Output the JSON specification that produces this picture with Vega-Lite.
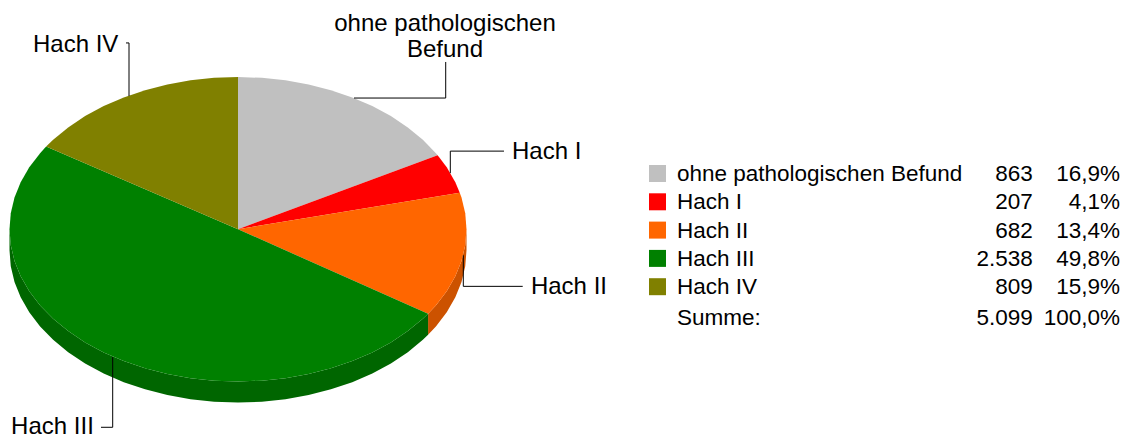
{"$schema":"https://vega.github.io/schema/vega-lite/v6.json","width":1131,"height":439,"autosize":{"type":"fit","contains":"padding"},"padding":0,"background":"#ffffff","view":{"stroke":null},
"config":{"text":{"font":"Liberation Sans","color":"#000000"}},
"datasets":{
"wand":[
{"k":"Hach II","x":83.19,"oben":-55.49,"unten":-69.31},{"k":"Hach II","x":86.6,"oben":-50,"unten":-63.82},{"k":"Hach II","x":91.35,"oben":-40.67,"unten":-54.49},{"k":"Hach II","x":95.11,"oben":-30.9,"unten":-44.72},{"k":"Hach II","x":97.81,"oben":-20.79,"unten":-34.61},{"k":"Hach II","x":99.45,"oben":-10.45,"unten":-24.27},{"k":"Hach II","x":100,"oben":0,"unten":-13.82},
{"k":"Hach III","x":-100,"oben":0,"unten":-13.82},{"k":"Hach III","x":-99.45,"oben":-10.45,"unten":-24.27},{"k":"Hach III","x":-97.81,"oben":-20.79,"unten":-34.61},{"k":"Hach III","x":-95.11,"oben":-30.9,"unten":-44.72},{"k":"Hach III","x":-91.35,"oben":-40.67,"unten":-54.49},{"k":"Hach III","x":-86.6,"oben":-50,"unten":-63.82},{"k":"Hach III","x":-80.9,"oben":-58.78,"unten":-72.6},{"k":"Hach III","x":-74.31,"oben":-66.91,"unten":-80.73},{"k":"Hach III","x":-66.91,"oben":-74.31,"unten":-88.13},{"k":"Hach III","x":-58.78,"oben":-80.9,"unten":-94.72},{"k":"Hach III","x":-50,"oben":-86.6,"unten":-100.42},{"k":"Hach III","x":-40.67,"oben":-91.35,"unten":-105.17},{"k":"Hach III","x":-30.9,"oben":-95.11,"unten":-108.93},{"k":"Hach III","x":-20.79,"oben":-97.81,"unten":-111.63},{"k":"Hach III","x":-10.45,"oben":-99.45,"unten":-113.27},{"k":"Hach III","x":0,"oben":-100,"unten":-113.82},{"k":"Hach III","x":10.45,"oben":-99.45,"unten":-113.27},{"k":"Hach III","x":20.79,"oben":-97.81,"unten":-111.63},{"k":"Hach III","x":30.9,"oben":-95.11,"unten":-108.93},{"k":"Hach III","x":40.67,"oben":-91.35,"unten":-105.17},{"k":"Hach III","x":50,"oben":-86.6,"unten":-100.42},{"k":"Hach III","x":58.78,"oben":-80.9,"unten":-94.72},{"k":"Hach III","x":66.91,"oben":-74.31,"unten":-88.13},{"k":"Hach III","x":74.31,"oben":-66.91,"unten":-80.73},{"k":"Hach III","x":80.9,"oben":-58.78,"unten":-72.6},{"k":"Hach III","x":83.19,"oben":-55.49,"unten":-69.31}],
"flaeche":[
{"k":"ohne pathologischen Befund","n":0,"x":0,"y":0},{"k":"ohne pathologischen Befund","n":1,"x":0,"y":100},{"k":"ohne pathologischen Befund","n":2,"x":10.45,"y":99.45},{"k":"ohne pathologischen Befund","n":3,"x":20.79,"y":97.81},{"k":"ohne pathologischen Befund","n":4,"x":30.9,"y":95.11},{"k":"ohne pathologischen Befund","n":5,"x":40.67,"y":91.35},{"k":"ohne pathologischen Befund","n":6,"x":50,"y":86.6},{"k":"ohne pathologischen Befund","n":7,"x":58.78,"y":80.9},{"k":"ohne pathologischen Befund","n":8,"x":66.91,"y":74.31},{"k":"ohne pathologischen Befund","n":9,"x":74.31,"y":66.91},{"k":"ohne pathologischen Befund","n":10,"x":80.9,"y":58.78},{"k":"ohne pathologischen Befund","n":11,"x":86.6,"y":50},{"k":"ohne pathologischen Befund","n":12,"x":87.37,"y":48.65},
{"k":"Hach I","n":0,"x":0,"y":0},{"k":"Hach I","n":1,"x":87.37,"y":48.65},{"k":"Hach I","n":2,"x":91.35,"y":40.67},{"k":"Hach I","n":3,"x":95.11,"y":30.9},{"k":"Hach I","n":4,"x":97.05,"y":24},
{"k":"Hach II","n":0,"x":0,"y":0},{"k":"Hach II","n":1,"x":97.05,"y":24},{"k":"Hach II","n":2,"x":97.81,"y":20.79},{"k":"Hach II","n":3,"x":99.45,"y":10.45},{"k":"Hach II","n":4,"x":100,"y":0},{"k":"Hach II","n":5,"x":99.45,"y":-10.45},{"k":"Hach II","n":6,"x":97.81,"y":-20.79},{"k":"Hach II","n":7,"x":95.11,"y":-30.9},{"k":"Hach II","n":8,"x":91.35,"y":-40.67},{"k":"Hach II","n":9,"x":86.6,"y":-50},{"k":"Hach II","n":10,"x":83.19,"y":-55.49},
{"k":"Hach III","n":0,"x":0,"y":0},{"k":"Hach III","n":1,"x":83.19,"y":-55.49},{"k":"Hach III","n":2,"x":80.9,"y":-58.78},{"k":"Hach III","n":3,"x":74.31,"y":-66.91},{"k":"Hach III","n":4,"x":66.91,"y":-74.31},{"k":"Hach III","n":5,"x":58.78,"y":-80.9},{"k":"Hach III","n":6,"x":50,"y":-86.6},{"k":"Hach III","n":7,"x":40.67,"y":-91.35},{"k":"Hach III","n":8,"x":30.9,"y":-95.11},{"k":"Hach III","n":9,"x":20.79,"y":-97.81},{"k":"Hach III","n":10,"x":10.45,"y":-99.45},{"k":"Hach III","n":11,"x":0,"y":-100},{"k":"Hach III","n":12,"x":-10.45,"y":-99.45},{"k":"Hach III","n":13,"x":-20.79,"y":-97.81},{"k":"Hach III","n":14,"x":-30.9,"y":-95.11},{"k":"Hach III","n":15,"x":-40.67,"y":-91.35},{"k":"Hach III","n":16,"x":-50,"y":-86.6},{"k":"Hach III","n":17,"x":-58.78,"y":-80.9},{"k":"Hach III","n":18,"x":-66.91,"y":-74.31},{"k":"Hach III","n":19,"x":-74.31,"y":-66.91},{"k":"Hach III","n":20,"x":-80.9,"y":-58.78},{"k":"Hach III","n":21,"x":-86.6,"y":-50},{"k":"Hach III","n":22,"x":-91.35,"y":-40.67},{"k":"Hach III","n":23,"x":-95.11,"y":-30.9},{"k":"Hach III","n":24,"x":-97.81,"y":-20.79},{"k":"Hach III","n":25,"x":-99.45,"y":-10.45},{"k":"Hach III","n":26,"x":-100,"y":0},{"k":"Hach III","n":27,"x":-99.45,"y":10.45},{"k":"Hach III","n":28,"x":-97.81,"y":20.79},{"k":"Hach III","n":29,"x":-95.11,"y":30.9},{"k":"Hach III","n":30,"x":-91.35,"y":40.67},{"k":"Hach III","n":31,"x":-86.6,"y":50},{"k":"Hach III","n":32,"x":-83.98,"y":54.29},
{"k":"Hach IV","n":0,"x":0,"y":0},{"k":"Hach IV","n":1,"x":-83.98,"y":54.29},{"k":"Hach IV","n":2,"x":-80.9,"y":58.78},{"k":"Hach IV","n":3,"x":-74.31,"y":66.91},{"k":"Hach IV","n":4,"x":-66.91,"y":74.31},{"k":"Hach IV","n":5,"x":-58.78,"y":80.9},{"k":"Hach IV","n":6,"x":-50,"y":86.6},{"k":"Hach IV","n":7,"x":-40.67,"y":91.35},{"k":"Hach IV","n":8,"x":-30.9,"y":95.11},{"k":"Hach IV","n":9,"x":-20.79,"y":97.81},{"k":"Hach IV","n":10,"x":-10.45,"y":99.45},{"k":"Hach IV","n":11,"x":0,"y":100}],
"linien":[
{"k":"ohne pathologischen Befund","n":0,"x":50.77,"y":86.18},{"k":"ohne pathologischen Befund","n":1,"x":90.9,"y":86.18},{"k":"ohne pathologischen Befund","n":2,"x":90.9,"y":109.87},
{"k":"Hach I","n":0,"x":92.91,"y":36.84},{"k":"Hach I","n":1,"x":92.91,"y":51.32},{"k":"Hach I","n":2,"x":116.41,"y":51.32},
{"k":"Hach II","n":0,"x":98.6,"y":-17.1},{"k":"Hach II","n":1,"x":98.6,"y":-37.5},{"k":"Hach II","n":2,"x":124.6,"y":-37.5},
{"k":"Hach III","n":0,"x":-54.84,"y":-84},{"k":"Hach III","n":1,"x":-54.84,"y":-130.07},{"k":"Hach III","n":2,"x":-59.96,"y":-130.07},
{"k":"Hach IV","n":0,"x":-47.7,"y":87.5},{"k":"Hach IV","n":1,"x":-47.7,"y":122.37},{"k":"Hach IV","n":2,"x":-49.01,"y":122.37}],
"beschriftung":[
{"t":"Hach I","x":119.9,"y":50.6},{"t":"Hach II","x":128.2,"y":-38.2},{"t":"Hach III","x":-99.3,"y":-130.2},{"t":"Hach IV","x":-89.72,"y":121}],
"tabelle":[
{"k":"ohne pathologischen Befund","anzahl":"863","anteil":"16,9%"},{"k":"Hach I","anzahl":"207","anteil":"4,1%"},{"k":"Hach II","anzahl":"682","anteil":"13,4%"},{"k":"Hach III","anzahl":"2.538","anteil":"49,8%"},{"k":"Hach IV","anzahl":"809","anteil":"15,9%"}],
"summe":[{"k":"Summe:","anzahl":"5.099","anteil":"100,0%"}]
},
"layer":[
{"layer":[
{"data":{"name":"wand"},"mark":{"type":"area","interpolate":"linear"},
"encoding":{"x":{"field":"x","type":"quantitative","scale":{"domain":[-100,100],"range":[9.5,466.5],"nice":false,"zero":false},"axis":null},"y":{"field":"oben","type":"quantitative","scale":{"domain":[-100,100],"range":[381.5,77],"nice":false,"zero":false},"axis":null},"y2":{"field":"unten"},"fill":{"field":"k","type":"nominal","legend":null,"scale":{"domain":["Hach II","Hach III"],"range":["#cc5200","#006600"]}}}},
{"data":{"name":"flaeche"},"mark":{"type":"line","strokeWidth":0,"interpolate":"linear"},
"encoding":{"x":{"field":"x","type":"quantitative"},"y":{"field":"y","type":"quantitative"},"order":{"field":"n","type":"quantitative"},"detail":{"field":"k"},"fill":{"field":"k","type":"nominal","legend":null,"scale":{"domain":["ohne pathologischen Befund","Hach I","Hach II","Hach III","Hach IV"],"range":["#c0c0c0","#ff0000","#ff6600","#008000","#808000"]}}}},
{"data":{"name":"linien"},"mark":{"type":"line","stroke":"#000000","strokeWidth":1},
"encoding":{"x":{"field":"x","type":"quantitative"},"y":{"field":"y","type":"quantitative"},"order":{"field":"n","type":"quantitative"},"detail":{"field":"k"}}},
{"data":{"name":"beschriftung"},"mark":{"type":"text","align":"left","baseline":"middle","fontSize":24,"font":"Liberation Sans"},
"encoding":{"x":{"field":"x","type":"quantitative"},"y":{"field":"y","type":"quantitative"},"text":{"field":"t"}}},
{"data":{"values":[{"t":"ohne pathologischen\nBefund","x":90.6,"y":134.5}]},"mark":{"type":"text","align":"center","baseline":"middle","fontSize":24,"lineHeight":26,"lineBreak":"\n","font":"Liberation Sans"},
"encoding":{"x":{"field":"x","type":"quantitative"},"y":{"field":"y","type":"quantitative"},"text":{"field":"t"}}}
],"resolve":{"scale":{"fill":"independent"}}},
{"encoding":{"y":{"field":"k","type":"nominal","axis":null,"sort":null,"scale":{"type":"point","domain":["ohne pathologischen Befund","Hach I","Hach II","Hach III","Hach IV","Summe:"],"range":[173.5,315],"padding":0}}},
"layer":[
{"data":{"name":"tabelle"},"mark":{"type":"square","size":289,"filled":true,"opacity":1},
"encoding":{"x":{"datum":1.8,"type":"quantitative","axis":null,"scale":{"domain":[0,100],"range":[649,1120],"nice":false,"zero":false}},"fill":{"field":"k","type":"nominal","legend":null,"scale":{"domain":["ohne pathologischen Befund","Hach I","Hach II","Hach III","Hach IV"],"range":["#c0c0c0","#ff0000","#ff6600","#008000","#808000"]}}}},
{"data":{"name":"tabelle"},"mark":{"type":"text","align":"left","baseline":"middle","dy":0.5,"fontSize":22.5,"font":"Liberation Sans"},"encoding":{"x":{"datum":5.94,"type":"quantitative"},"text":{"field":"k"}}},
{"data":{"name":"tabelle"},"mark":{"type":"text","align":"right","baseline":"middle","dy":0.5,"fontSize":22.5,"font":"Liberation Sans"},"encoding":{"x":{"datum":81.5,"type":"quantitative"},"text":{"field":"anzahl"}}},
{"data":{"name":"tabelle"},"mark":{"type":"text","align":"right","baseline":"middle","dy":0.5,"fontSize":22.5,"font":"Liberation Sans"},"encoding":{"x":{"datum":100,"type":"quantitative"},"text":{"field":"anteil"}}},
{"data":{"name":"summe"},"mark":{"type":"text","align":"left","baseline":"middle","dy":2.5,"fontSize":22.5,"font":"Liberation Sans"},"encoding":{"x":{"datum":5.94,"type":"quantitative"},"text":{"field":"k"}}},
{"data":{"name":"summe"},"mark":{"type":"text","align":"right","baseline":"middle","dy":2.5,"fontSize":22.5,"font":"Liberation Sans"},"encoding":{"x":{"datum":81.5,"type":"quantitative"},"text":{"field":"anzahl"}}},
{"data":{"name":"summe"},"mark":{"type":"text","align":"right","baseline":"middle","dy":2.5,"fontSize":22.5,"font":"Liberation Sans"},"encoding":{"x":{"datum":100,"type":"quantitative"},"text":{"field":"anteil"}}}
]}
],
"resolve":{"scale":{"x":"independent","y":"independent","fill":"independent"}}}
